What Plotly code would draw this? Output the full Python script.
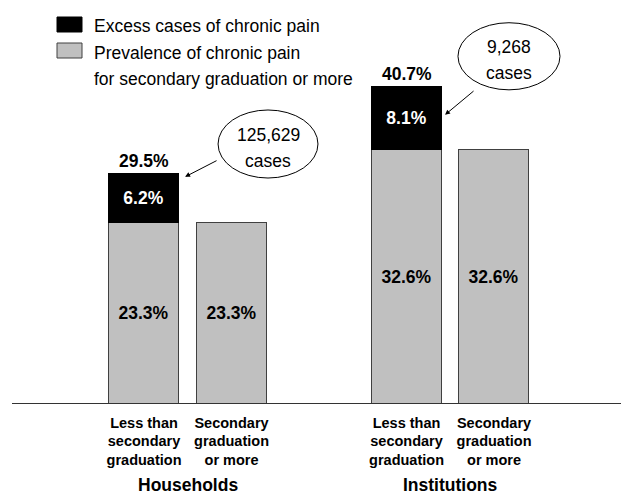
import plotly.graph_objects as go

# ---- data -------------------------------------------------------------
groups = ["Households", "Institutions"]
bar_labels = [
    "Less than<br>secondary<br>graduation",
    "Secondary<br>graduation<br>or more",
    "Less than<br>secondary<br>graduation",
    "Secondary<br>graduation<br>or more",
]
bar_pos = [0, 1, 3, 4]
prevalence = [23.3, 23.3, 32.6, 32.6]          # % chronic pain, secondary graduation or more
excess = [6.2, None, 8.1, None]                # % excess cases, less than secondary graduation
excess_cases = ["125,629", None, "9,268", None]

W, H = 621, 495
PLOT_H = 404  # pixel height of the plotting area (baseline position)
X_RANGE = [-1.646, 5.451]
Y_RANGE = [0, 51.9]

FONT = "Liberation Sans, Arial, sans-serif"


def px_x(p):
    return p / W


def px_y(p):
    return 1 - p / PLOT_H


fig = go.Figure()

fig.add_trace(go.Bar(
    x=bar_pos, y=prevalence, width=0.8,
    marker=dict(color="#c0c0c0", line=dict(color="#404040", width=1)),
    text=[f"<b>{v:.1f}%</b>" for v in prevalence],
    textposition="inside", insidetextanchor="middle",
    textfont=dict(family=FONT, size=17.5, color="black"),
    showlegend=False, hoverinfo="skip",
))
fig.add_trace(go.Bar(
    x=bar_pos, y=excess, width=0.8,
    marker=dict(color="black", line=dict(color="black", width=1)),
    text=[f"<b>{v:.1f}%</b>" if v is not None else "" for v in excess],
    textposition="inside", insidetextanchor="middle",
    textfont=dict(family=FONT, size=17.5, color="white"),
    showlegend=False, hoverinfo="skip",
))

annotations = []
shapes = []

# totals above the stacked bars
for x, base, ex in zip(bar_pos, prevalence, excess):
    if ex is None:
        continue
    total = base + ex
    annotations.append(dict(
        x=x, y=total, xref="x", yref="y", text=f"<b>{total:.1f}%</b>",
        showarrow=False, yanchor="bottom", yshift=1,
        font=dict(family=FONT, size=17.5, color="black"),
    ))

# call-out bubbles with number of excess cases
bubbles = {
    0: dict(cx=1.417, cy=33.4, rx=0.571, ry=4.37, head=(0.469, 29.18), tail=(0.846, 31.36)),
    2: dict(cx=4.171, cy=44.67, rx=0.583, ry=4.31, head=(3.44, 37.15), tail=(3.783, 40.36)),
}
for i, b in bubbles.items():
    shapes.append(dict(
        type="circle", xref="x", yref="y",
        x0=b["cx"] - b["rx"], x1=b["cx"] + b["rx"],
        y0=b["cy"] - b["ry"], y1=b["cy"] + b["ry"],
        line=dict(color="black", width=1), fillcolor="rgba(0,0,0,0)",
    ))
    for txt, shift in [(excess_cases[i], 9), ("cases", -17)]:
        annotations.append(dict(
            x=b["cx"], y=b["cy"], xref="x", yref="y", text=txt,
            showarrow=False, yshift=shift,
            font=dict(family=FONT, size=17.5, color="black"),
        ))
    annotations.append(dict(
        x=b["head"][0], y=b["head"][1], xref="x", yref="y",
        ax=b["tail"][0], ay=b["tail"][1], axref="x", ayref="y",
        text="", showarrow=True, arrowhead=2, arrowsize=1, arrowwidth=1,
        arrowcolor="black",
    ))

# group names under the category labels
for g, x in zip(groups, [0.5, 3.5]):
    annotations.append(dict(
        x=x, y=px_y(485), xref="x", yref="paper", text=f"<b>{g}</b>",
        showarrow=False, yanchor="middle",
        font=dict(family=FONT, size=17.5, color="black"),
    ))

# legend drawn by hand
shapes.append(dict(type="rect", xref="paper", yref="paper",
                   x0=px_x(57), x1=px_x(82), y0=px_y(32), y1=px_y(17),
                   fillcolor="black", line=dict(color="black", width=1)))
shapes.append(dict(type="rect", xref="paper", yref="paper",
                   x0=px_x(57), x1=px_x(82), y0=px_y(58), y1=px_y(43),
                   fillcolor="#c0c0c0", line=dict(color="#404040", width=1)))
legend_lines = [
    ("Excess cases of chronic pain", 26),
    ("Prevalence of chronic pain", 53),
    ("for secondary graduation or more", 79),
]
for txt, yp in legend_lines:
    annotations.append(dict(
        x=px_x(92), y=px_y(yp), xref="paper", yref="paper", text=txt,
        showarrow=False, xanchor="left", yanchor="middle",
        font=dict(family=FONT, size=17.5, color="black"),
    ))

# baseline
shapes.append(dict(type="line", xref="paper", yref="y",
                   x0=px_x(12), x1=1, y0=0, y1=0,
                   line=dict(color="#333333", width=2)))

fig.update_layout(
    width=W, height=H,
    margin=dict(l=0, r=0, t=0, b=H - PLOT_H),
    paper_bgcolor="white", plot_bgcolor="white",
    barmode="stack", bargap=0,
    xaxis=dict(range=X_RANGE, tickvals=bar_pos,
               ticktext=[f"<b>{t}</b>" for t in bar_labels],
               showgrid=False, zeroline=False, showline=False, ticks="",
               ticklabelstandoff=8,
               tickfont=dict(family=FONT, size=14.5, color="black")),
    yaxis=dict(range=Y_RANGE, visible=False, showgrid=False, zeroline=False),
    shapes=shapes, annotations=annotations,
    showlegend=False,
)

fig.write_html("out.html")
